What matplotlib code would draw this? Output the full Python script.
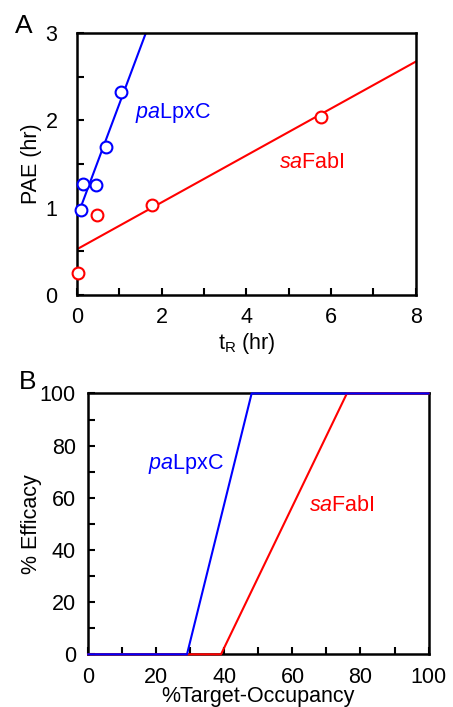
import numpy as np
import matplotlib.pyplot as plt
from matplotlib.ticker import MultipleLocator

plt.rcParams["font.family"] = ["Liberation Sans", "DejaVu Sans"]
plt.rcParams["mathtext.fontset"] = "custom"
plt.rcParams["mathtext.rm"] = "Liberation Sans"
plt.rcParams["mathtext.it"] = "Liberation Sans:italic"

# panel A: PAE vs residence time
pa_tr = [0.09, 0.15, 0.46, 0.68, 1.03]
pa_pae = [0.97, 1.27, 1.26, 1.69, 2.33]
sa_tr = [0.02, 0.48, 1.78, 5.75]
sa_pae = [0.25, 0.91, 1.03, 2.04]

# linear fits (slope, intercept) and x range
pa_fit = (1.30, 0.89)
pa_fit_x = [0.09, 1.62]
sa_fit = (0.269, 0.523)
sa_fit_x = [0.0, 8.0]

# panel B: efficacy vs occupancy
pa_occ = [0, 29, 48, 100]
pa_eff = [0, 0, 100, 100]
sa_occ = [0, 39, 76, 100]
sa_eff = [0, 0, 100, 100]

BLUE = "#0000ff"
RED = "#ff0000"
FS = 15.5


def style_axes(ax, ypad):
    for s in ax.spines.values():
        s.set_linewidth(1.8)
    ax.tick_params(which="both", direction="in", length=5, width=1.5,
                   labelsize=FS, top=False, right=False)
    ax.tick_params(axis="x", pad=9)
    ax.tick_params(axis="y", pad=ypad)


fig = plt.figure(figsize=(4.53, 7.07), dpi=100)

axA = fig.add_axes([0.170, 0.583, 0.748, 0.370])
x = np.array(sa_fit_x)
axA.plot(x, sa_fit[0] * x + sa_fit[1], color=RED, lw=1.5)
x = np.array(pa_fit_x)
axA.plot(x, pa_fit[0] * x + pa_fit[1], color=BLUE, lw=1.5)
axA.plot(sa_tr, sa_pae, "o", mfc="white", mec=RED, mew=1.5, ms=8.5,
         clip_on=False, zorder=4)
axA.plot(pa_tr, pa_pae, "o", mfc="white", mec=BLUE, mew=1.5, ms=8.5,
         clip_on=False, zorder=4)
axA.set_xlim(0, 8)
axA.set_ylim(0, 3)
axA.xaxis.set_major_locator(MultipleLocator(2))
axA.xaxis.set_minor_locator(MultipleLocator(1))
axA.yaxis.set_major_locator(MultipleLocator(1))
axA.yaxis.set_minor_locator(MultipleLocator(0.5))
style_axes(axA, 14)
axA.set_xlabel("t$_\\mathrm{R}$ (hr)", fontsize=FS)
axA.set_ylabel("PAE (hr)", fontsize=FS)
axA.xaxis.set_label_coords(0.5, -0.140)
axA.yaxis.set_label_coords(-0.133, 0.5)
axA.yaxis.label.set_va("center")
axA.text(1.38, 2.08, "$\\mathit{pa}$LpxC", color=BLUE, fontsize=FS,
         va="center", ha="left")
axA.text(4.78, 1.52, "$\\mathit{sa}$FabI", color=RED, fontsize=FS,
         va="center", ha="left")
fig.text(0.032, 0.963, "A", fontsize=19, va="center")

axB = fig.add_axes([0.195, 0.0745, 0.751, 0.369])
axB.plot(sa_occ, sa_eff, color=RED, lw=1.5, clip_on=False, zorder=3)
axB.plot(pa_occ, pa_eff, color=BLUE, lw=1.5, clip_on=False, zorder=3)
axB.set_xlim(0, 100)
axB.set_ylim(0, 100)
axB.xaxis.set_major_locator(MultipleLocator(20))
axB.xaxis.set_minor_locator(MultipleLocator(10))
axB.yaxis.set_major_locator(MultipleLocator(20))
axB.yaxis.set_minor_locator(MultipleLocator(10))
style_axes(axB, 9)
axB.set_xlabel("%Target-Occupancy", fontsize=FS)
axB.set_ylabel("% Efficacy", fontsize=FS)
axB.xaxis.set_label_coords(0.5, -0.122)
axB.yaxis.set_label_coords(-0.166, 0.5)
axB.yaxis.label.set_va("center")
axB.text(17.5, 73, "$\\mathit{pa}$LpxC", color=BLUE, fontsize=FS,
         va="center", ha="left")
axB.text(65, 57, "$\\mathit{sa}$FabI", color=RED, fontsize=FS,
         va="center", ha="left")
fig.text(0.042, 0.459, "B", fontsize=19, va="center")

fig.savefig("out.png", dpi=100)
